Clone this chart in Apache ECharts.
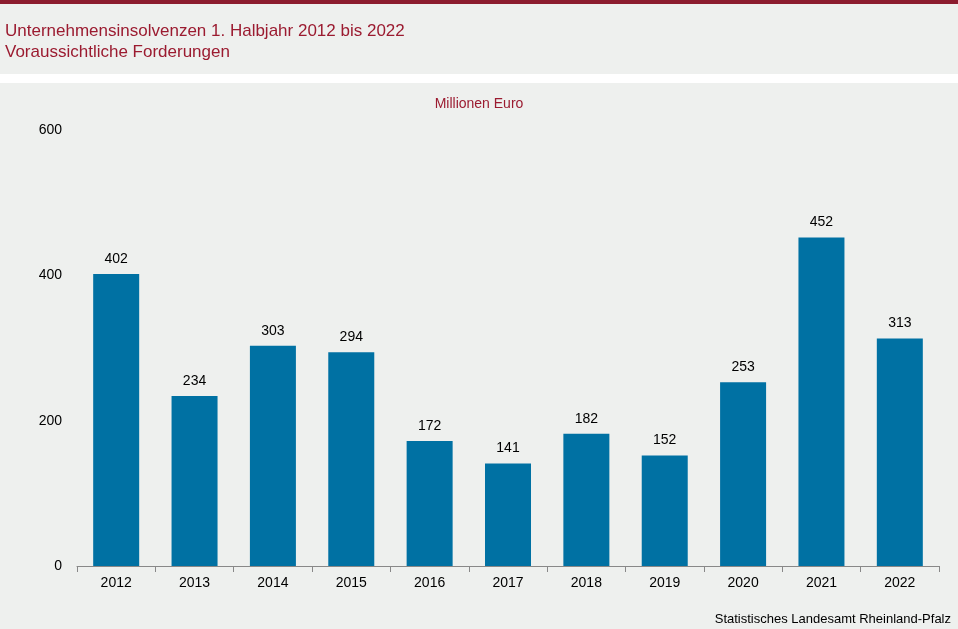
<!DOCTYPE html>
<html><head><meta charset="utf-8">
<script src="https://cdn.jsdelivr.net/npm/echarts@6/dist/echarts.min.js"></script>
<style>html,body{margin:0;padding:0;background:#fff}#main{width:958px;height:629px}</style>
</head><body><div id="main"></div>
<script>
var years = ['2012','2013','2014','2015','2016','2017','2018','2019','2020','2021','2022'];
var forderungen = [402,234,303,294,172,141,182,152,253,452,313];

var chart = echarts.init(document.getElementById('main'));
chart.setOption({
    backgroundColor:'#fff',
    animation:false,
    textStyle:{fontFamily:'Liberation Sans, Arial'},
    graphic:[
        {type:'rect',z:-10,shape:{x:0,y:0,width:958,height:4},style:{fill:'#8c1c2e'}},
        {type:'rect',z:-10,shape:{x:0,y:4,width:958,height:70},style:{fill:'#eef0ee'}},
        {type:'rect',z:-10,shape:{x:0,y:83,width:958,height:546},style:{fill:'#eef0ee'}},
        {type:'text',left:5,top:21,style:{text:'Unternehmensinsolvenzen 1. Halbjahr 2012 bis 2022\nVoraussichtliche Forderungen',fill:'#9b1b30',font:'17px Liberation Sans, Arial',lineHeight:21}},
        {type:'text',left:'center',top:97,style:{text:'Millionen Euro',fill:'#9b1b30',font:'14px Liberation Sans, Arial'}},
        {type:'text',right:7,top:613,style:{text:'Statistisches Landesamt Rheinland-Pfalz',fill:'#000',font:'13px Liberation Sans, Arial'}}
    ],
    grid:{left:77,right:19,top:130,bottom:63},
    xAxis:{
        type:'category',data:years,
        axisLine:{lineStyle:{color:'#888'}},
        axisTick:{show:true,length:6,lineStyle:{color:'#888'}},
        axisLabel:{color:'#000',fontSize:14,margin:10}
    },
    yAxis:{
        type:'value',min:0,max:600,interval:200,
        splitLine:{show:false},axisLine:{show:false},axisTick:{show:false},
        axisLabel:{color:'#000',fontSize:14,margin:15}
    },
    series:[{
        type:'bar',data:forderungen,barWidth:46,
        itemStyle:{color:'#0071a3'},
        label:{show:true,position:'top',distance:8,color:'#000',fontSize:14}
    }]
});
</script></body></html>
